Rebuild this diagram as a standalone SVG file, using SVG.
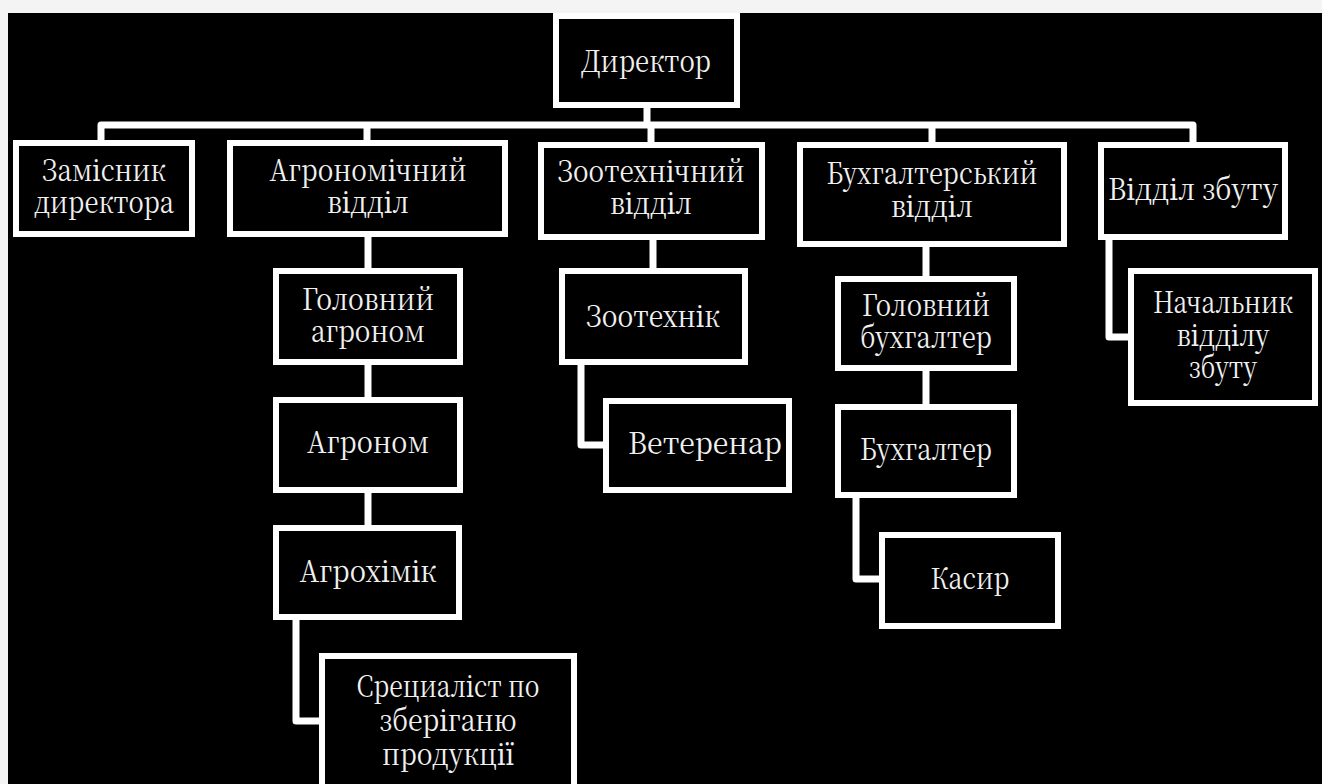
<svg xmlns="http://www.w3.org/2000/svg" width="1322" height="784" viewBox="0 0 1322 784">
<style>
.box{fill:#000;stroke:#fff;stroke-width:6}
.t{font-family:"Noto Serif CJK SC","Noto Serif CJK JP","DejaVu Serif",serif;font-size:30px;fill:#f0f0f0;text-anchor:middle}
.c{fill:none;stroke:#fff;stroke-width:7;stroke-linejoin:round}
</style>
<rect x="0" y="0" width="1322" height="784" fill="#f4f4f4"/>
<rect x="8" y="13" width="1314" height="771" fill="#000"/>
<g id="connectors">
<path class="c" d="M647 108 V125"/>
<path class="c" d="M101 141 V125 H1193 V143"/>
<path class="c" d="M367 125 V141"/>
<path class="c" d="M651 125 V143"/>
<path class="c" d="M932 125 V143"/>
<path class="c" d="M368 237 V269"/>
<path class="c" d="M368 365 V398"/>
<path class="c" d="M368 493 V526"/>
<path class="c" d="M296 620 V721 H320"/>
<path class="c" d="M653 240 V269"/>
<path class="c" d="M581 365 V445 H604"/>
<path class="c" d="M926 247 V277"/>
<path class="c" d="M926 371 V405"/>
<path class="c" d="M856 498 V579 H880"/>
<path class="c" d="M1109 240 V337 H1129"/>
</g>
<g id="director"><rect class="box" x="556" y="16" width="181" height="89"/><text class="t" x="646" y="72" textLength="130" lengthAdjust="spacingAndGlyphs">Директор</text></g>
<g id="deputy"><rect class="box" x="16" y="143" width="176" height="91"/><text class="t" x="104" y="181" textLength="124" lengthAdjust="spacingAndGlyphs">Замісник</text><text class="t" x="104" y="213" textLength="140" lengthAdjust="spacingAndGlyphs">директора</text></g>
<g id="agro"><rect class="box" x="230" y="143" width="275" height="91"/><text class="t" x="368" y="181" textLength="197" lengthAdjust="spacingAndGlyphs">Агрономічний</text><text class="t" x="368" y="213" textLength="82" lengthAdjust="spacingAndGlyphs">відділ</text></g>
<g id="zoo"><rect class="box" x="541" y="145" width="221" height="92"/><text class="t" x="651" y="182" textLength="187" lengthAdjust="spacingAndGlyphs">Зоотехнічний</text><text class="t" x="651" y="214" textLength="82" lengthAdjust="spacingAndGlyphs">відділ</text></g>
<g id="buh"><rect class="box" x="800" y="145" width="264" height="99"/><text class="t" x="932" y="184" textLength="211" lengthAdjust="spacingAndGlyphs">Бухгалтерський</text><text class="t" x="932" y="217" textLength="82" lengthAdjust="spacingAndGlyphs">відділ</text></g>
<g id="sales"><rect class="box" x="1101" y="145" width="184" height="92"/><text class="t" x="1193" y="200" textLength="170" lengthAdjust="spacingAndGlyphs">Відділ збуту</text></g>
<g id="chief-agro"><rect class="box" x="276" y="271" width="184" height="91"/><text class="t" x="368" y="310" textLength="132" lengthAdjust="spacingAndGlyphs">Головний</text><text class="t" x="368" y="342" textLength="114" lengthAdjust="spacingAndGlyphs">агроном</text></g>
<g id="agronom"><rect class="box" x="276" y="400" width="184" height="90"/><text class="t" x="368" y="453" textLength="122" lengthAdjust="spacingAndGlyphs">Агроном</text></g>
<g id="agrochem"><rect class="box" x="276" y="528" width="183" height="89"/><text class="t" x="368" y="582" textLength="137" lengthAdjust="spacingAndGlyphs">Агрохімік</text></g>
<g id="storage"><rect class="box" x="322" y="656" width="252" height="140"/><text class="t" x="448" y="697" textLength="183" lengthAdjust="spacingAndGlyphs">Срециаліст по</text><text class="t" x="448" y="731" textLength="137" lengthAdjust="spacingAndGlyphs">зберіганю</text><text class="t" x="448" y="765" textLength="132" lengthAdjust="spacingAndGlyphs">продукції</text></g>
<g id="zootech"><rect class="box" x="562" y="271" width="183" height="91"/><text class="t" x="653" y="327" textLength="134" lengthAdjust="spacingAndGlyphs">Зоотехнік</text></g>
<g id="vet"><rect class="box" x="606" y="401" width="183" height="89"/><text class="t" x="705" y="454" textLength="154" lengthAdjust="spacingAndGlyphs">Ветеренар</text></g>
<g id="chief-buh"><rect class="box" x="838" y="279" width="176" height="89"/><text class="t" x="926" y="316" textLength="128" lengthAdjust="spacingAndGlyphs">Головний</text><text class="t" x="926" y="348" textLength="132" lengthAdjust="spacingAndGlyphs">бухгалтер</text></g>
<g id="buhgalter"><rect class="box" x="838" y="407" width="176" height="88"/><text class="t" x="926" y="460" textLength="132" lengthAdjust="spacingAndGlyphs">Бухгалтер</text></g>
<g id="cashier"><rect class="box" x="882" y="535" width="176" height="91"/><text class="t" x="970" y="589" textLength="79" lengthAdjust="spacingAndGlyphs">Касир</text></g>
<g id="sales-head"><rect class="box" x="1131" y="271" width="184" height="132"/><text class="t" x="1223" y="313" textLength="140" lengthAdjust="spacingAndGlyphs">Начальник</text><text class="t" x="1223" y="346" textLength="93" lengthAdjust="spacingAndGlyphs">відділу</text><text class="t" x="1223" y="378" textLength="68" lengthAdjust="spacingAndGlyphs">збуту</text></g>
</svg>
